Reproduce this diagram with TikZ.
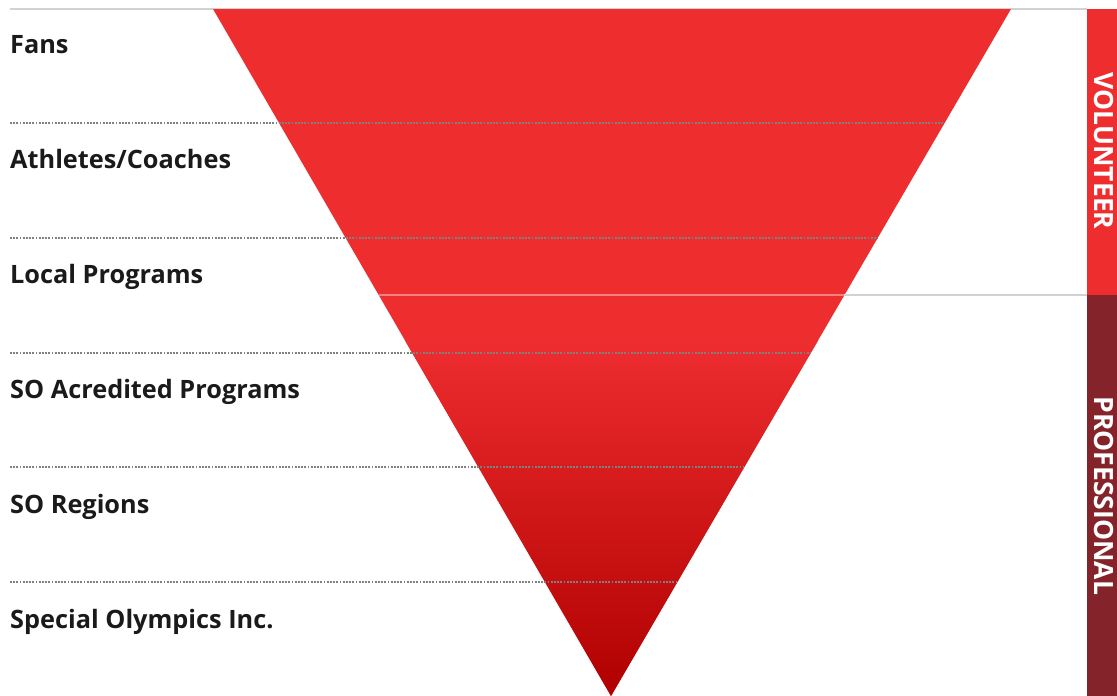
\documentclass[tikz,border=0pt]{standalone}
\usepackage{fontspec}
\setmainfont{Open Sans}
\usetikzlibrary{calc}

\definecolor{funnelred}{HTML}{EE2D2F}
\definecolor{funnelmid}{HTML}{CB0A0E}
\definecolor{funneldark}{HTML}{B00000}
\definecolor{volred}{HTML}{EE2D2F}
\definecolor{prored}{HTML}{84232A}
\definecolor{labelgray}{HTML}{1A1A1A}
\definecolor{dotgray}{HTML}{808080}

\tikzset{
  level/.style={anchor=base west,text=labelgray,font=\fontsize{25.3}{25}\selectfont\bfseries,inner sep=0pt},
  sep/.style={dotgray,line width=2pt,dash pattern=on 1.8pt off 1.4pt},
  barlabel/.style={rotate=-90,text=white,font=\fontsize{26.5}{26}\selectfont\bfseries,inner sep=0pt}
}

\begin{document}
\begin{tikzpicture}[x=1pt,y=-1pt]
\useasboundingbox (0,0) rectangle (1117,696);
\coordinate (lft) at (10,0);
\coordinate (tl) at (213,9);
\coordinate (tr) at (1011,9);
\coordinate (tip) at (611,696);
\coordinate (barl) at (1087,0);

% top rule
\draw[gray!35,line width=1.5pt] (lft |- tl) -- (barl |- tl);

% funnel
\path[fill=funnelred] (tl) -- (tr) -- (tip) -- cycle;
\begin{scope}
\clip (tl) -- (tr) -- (tip) -- cycle;
\shade[top color=funnelred,middle color=funnelmid,bottom color=funneldark] (200,340) rectangle (1020,696);
\end{scope}

% volunteer / professional split
\coordinate (sl) at ($(tl)!2.5/6!(tip)$);
\coordinate (sr) at ($(tr)!2.5/6!(tip)$);
\draw[white,opacity=0.4,line width=1.5pt] (sl) -- (sr);
\draw[gray!35,line width=1.5pt] (sr) -- (barl |- sr);

% dotted separators
\coordinate (r1) at ($(tr)!1/6!(tip)$);
\coordinate (r2) at ($(tr)!2/6!(tip)$);
\coordinate (r3) at ($(tr)!3/6!(tip)$);
\coordinate (r4) at ($(tr)!4/6!(tip)$);
\coordinate (r5) at ($(tr)!5/6!(tip)$);
\draw[sep] (lft |- r1) -- (r1);
\draw[sep] (lft |- r2) -- (r2);
\draw[sep] (lft |- r3) -- (r3);
\draw[sep] (lft |- r4) -- (r4);
\draw[sep] (lft |- r5) -- (r5);

% levels
\node[level] (fans) at (10,53.5) {Fans};
\node[level] (athletes) at (10,168.5) {Athletes/Coaches};
\node[level] (local) at (10,283.5) {Local Programs};
\node[level] (acredited) at (10,398.5) {SO Acredited Programs};
\node[level] (regions) at (10,513.5) {SO Regions};
\node[level] (soi) at (10,628.5) {Special Olympics Inc.};

% side bars
\fill[volred] (barl |- tl) rectangle (1117,295);
\fill[prored] (barl |- sr) rectangle (1117,696);
\node[barlabel] (volunteer) at (1104,151) {VOLUNTEER};
\node[barlabel] (professional) at (1104,496) {PROFESSIONAL};
\end{tikzpicture}
\end{document}
